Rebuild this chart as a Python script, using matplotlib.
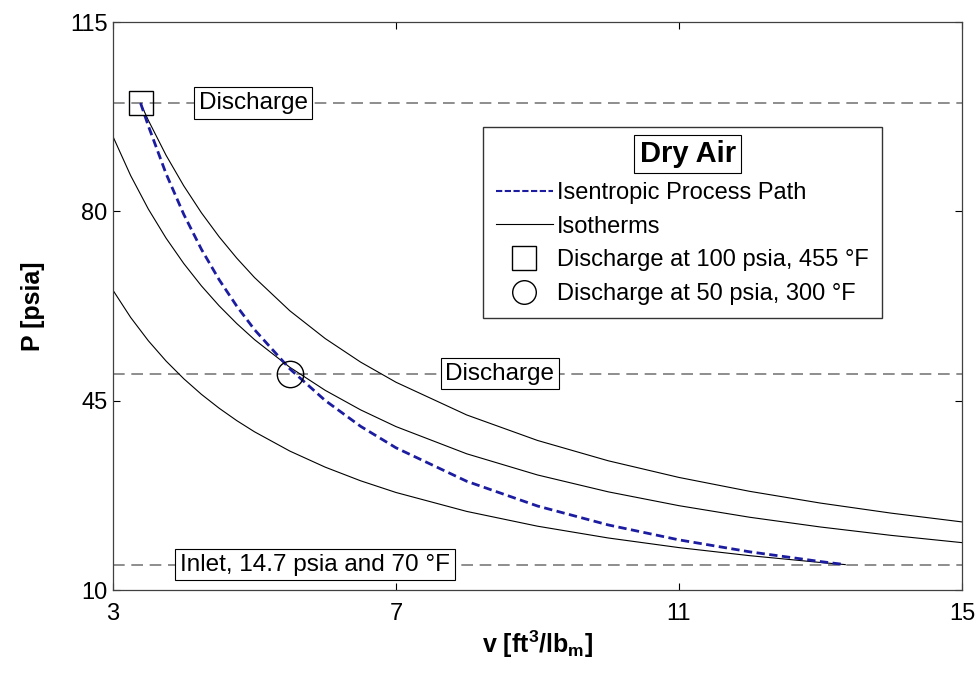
import matplotlib
matplotlib.use("Agg")
import matplotlib.pyplot as plt
from matplotlib.lines import Line2D

plt.rcParams['font.family'] = ['Liberation Sans', 'DejaVu Sans']
plt.rcParams['mathtext.fontset'] = 'custom'
plt.rcParams['mathtext.rm'] = 'Liberation Sans'
plt.rcParams['mathtext.bf'] = 'Liberation Sans:bold'

# ---------------- data ----------------
# isotherm at 70 F (inlet)
v_t70 = [3.0, 3.25, 3.5, 3.75, 4.0, 4.25, 4.5, 4.75, 5.0, 5.5, 6.0, 6.5, 7.0,
         8.0, 9.0, 10.0, 11.0, 12.0, 13.0, 13.35]
p_t70 = [65.41, 60.38, 56.07, 52.33, 49.06, 46.17, 43.61, 41.31, 39.25, 35.68,
         32.71, 30.19, 28.03, 24.53, 21.80, 19.62, 17.84, 16.35, 15.09, 14.70]

# isotherm at 300 F
v_t300 = [3.0, 3.25, 3.5, 3.75, 4.0, 4.25, 4.5, 4.75, 5.0, 5.5, 6.0, 6.5, 7.0,
          8.0, 9.0, 10.0, 11.0, 12.0, 13.0, 14.0, 15.0]
p_t300 = [93.82, 86.60, 80.41, 75.05, 70.36, 66.22, 62.54, 59.25, 56.29, 51.17,
          46.91, 43.30, 40.21, 35.18, 31.27, 28.15, 25.59, 23.45, 21.65, 20.10, 18.76]

# isotherm at 455 F
v_t455 = [3.39, 3.5, 3.75, 4.0, 4.25, 4.5, 4.75, 5.0, 5.5, 6.0, 6.5, 7.0,
          8.0, 9.0, 10.0, 11.0, 12.0, 13.0, 14.0, 15.0]
p_t455 = [99.96, 96.82, 90.37, 84.72, 79.73, 75.30, 71.34, 67.77, 61.61, 56.48,
          52.13, 48.41, 42.36, 37.65, 33.89, 30.81, 28.24, 26.07, 24.21, 22.59]

# isentropic process path
v_isen = [3.39, 3.5, 3.75, 4.0, 4.25, 4.5, 4.75, 5.0, 5.5, 6.0, 6.5, 7.0,
          8.0, 9.0, 10.0, 11.0, 12.0, 13.0, 13.35]
p_isen = [100.0, 95.78, 86.96, 79.45, 72.98, 67.37, 62.46, 58.13, 50.87, 45.03,
          40.26, 36.29, 30.10, 25.53, 22.03, 19.27, 17.06, 15.26, 14.70]

# reference pressures (dashed lines)
p_levels = [14.7, 50.0, 100.0]
level_labels = ['Inlet, 14.7 psia and 70 \u00b0F', 'Discharge', 'Discharge']
label_v = [5.86, 8.47, 4.98]

# discharge points
sq_v, sq_p = 3.39, 100.0
ci_v, ci_p = 5.5, 50.0

x_ticks = [3, 7, 11, 15]
y_ticks = [10, 45, 80, 115]

legend_title = 'Dry Air'
legend_labels = ['Isentropic Process Path', 'Isotherms',
                 'Discharge at 100 psia, 455 \u00b0F', 'Discharge at 50 psia, 300 \u00b0F']

# ---------------- figure ----------------
fig = plt.figure(figsize=(9.8, 6.75), dpi=100)
ax = fig.add_axes([0.1153, 0.1259, 0.8663, 0.8415])

ax.set_xlim(3, 15)
ax.set_ylim(10, 115)

dash_col = '#7a7a7a'
for p in p_levels:
    ax.plot([3, 15], [p, p], color=dash_col, lw=1.2, dashes=(7, 4), zorder=1)

ax.plot(v_t70, p_t70, color='black', lw=0.8, zorder=2)
ax.plot(v_t300, p_t300, color='black', lw=0.8, zorder=2)
ax.plot(v_t455, p_t455, color='black', lw=0.8, zorder=2)
ax.plot(v_isen, p_isen, color='#1c1ca0', lw=2.0, dashes=(3, 1.6), zorder=3)

ax.plot([sq_v], [sq_p], marker='s', ms=17.5, mfc='none', mec='black', mew=1.0, ls='none', zorder=4)
ax.plot([ci_v], [ci_p], marker='o', ms=19, mfc='none', mec='black', mew=1.0, ls='none', zorder=4)

for p, lab, v in zip(p_levels, level_labels, label_v):
    ax.text(v, p, lab, ha='center', va='center', fontsize=17.5, zorder=5,
            bbox=dict(boxstyle='square,pad=0.2', fc='white', ec='black', lw=0.8))

ax.set_xticks(x_ticks)
ax.set_yticks(y_ticks)
ax.tick_params(axis='both', direction='in', top=True, right=True, length=5, width=0.8,
               labelsize=17)
ax.tick_params(axis='x', pad=9)
ax.tick_params(axis='y', pad=4)
for s in ax.spines.values():
    s.set_color('#404040')
    s.set_linewidth(0.9)

ax.set_xlabel(r'v [ft$^{\mathbf{3}}$/lb$_{\mathbf{m}}$]', fontsize=18, fontweight='bold', labelpad=3)
ax.set_ylabel('P [psia]', fontsize=18, fontweight='bold', labelpad=18)

handles = [
    Line2D([], [], color='#1c1ca0', lw=1.5, dashes=(3, 1.2)),
    Line2D([], [], color='black', lw=0.8),
    Line2D([], [], marker='s', ms=17, mfc='none', mec='black', mew=1.0, ls='none'),
    Line2D([], [], marker='o', ms=17, mfc='none', mec='black', mew=1.0, ls='none'),
]
leg = ax.legend(handles, legend_labels, loc='upper left', bbox_to_anchor=(0.4358, 0.8151),
                fontsize=17, frameon=True, fancybox=False, shadow=False,
                handlelength=2.4, handletextpad=0.2, labelspacing=0.5,
                borderpad=0.55, borderaxespad=0, title=' ',
                title_fontproperties={'size': 23})
leg.get_frame().set_edgecolor('black')
leg.get_frame().set_linewidth(1.0)
leg.set_zorder(6)

ax.text(0.677, 0.768, legend_title, transform=ax.transAxes, ha='center', va='center',
        fontsize=21, fontweight='bold', zorder=7,
        bbox=dict(boxstyle='square,pad=0.18', fc='white', ec='black', lw=0.8))

fig.savefig('out.png', dpi=100)
